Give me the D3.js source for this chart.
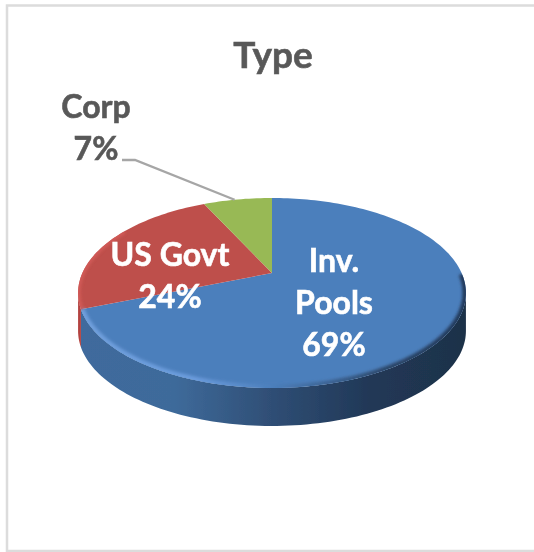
<!DOCTYPE html>
<html>
<head>
<meta charset="utf-8">
<style>
  html, body { margin: 0; padding: 0; background: #fff; }
  svg { display: block; }
  text { font-family: Lato, "Open Sans", sans-serif; font-weight: 700; text-anchor: middle; stroke-width: 0.6; }
</style>
<script src="https://cdn.jsdelivr.net/npm/d3@7"></script>
</head>
<body>
<div id="chart-area"></div>
<script>
const categories = ["Inv. Pools", "US Govt", "Corp"]
const shares = [69, 24, 7]
const topColors = ["#4c7fbc", "#be4f4b", "#98b954"]
const labelLines = [["Inv.", "Pools", "69%"], ["US Govt", "24%"], ["Corp", "7%"]]
const labelColors = ["#ffffff", "#ffffff", "#595959"]
const labelPos = [[334, 272], [170, 266], [96, 118]]

const WIDTH = 534
const HEIGHT = 552
const APEX = { X: 272, Y: 273 }
const DEPTH = 38
// perspective tilt of the disc, worked out from the top, front and side of the pie
const TILT = { K: -0.21, A: 90.8, B: 189.6 }

const svg = d3.select("#chart-area").append("svg")
  .attr("width", WIDTH)
  .attr("height", HEIGHT)

const defs = svg.append("defs")

defs.append("filter").attr("id", "soft")
  .append("feGaussianBlur").attr("stdDeviation", 0.6)
defs.append("filter").attr("id", "rim")
  .append("feGaussianBlur").attr("stdDeviation", 1.8)

function hGradient(id, stops) {
  const grad = defs.append("linearGradient")
    .attr("id", id)
    .attr("gradientUnits", "userSpaceOnUse")
    .attr("x1", 78).attr("x2", 466).attr("y1", 0).attr("y2", 0)
  stops.forEach(s => grad.append("stop").attr("offset", s[0]).attr("stop-color", s[1]))
}
hGradient("blueSide", [[0, "#3f6b9d"], [0.25, "#3e6a9a"], [0.5, "#2f4e75"], [0.75, "#213857"], [1, "#1e3249"]])
hGradient("rimGlow", [[0, "#6f9fdc"], [0.3, "#6a9bdc"], [0.5, "#4c7fbc"], [0.8, "#2b4668"], [1, "#22395a"]])

// angle clockwise from 12 o'clock to screen position on the rim
function project(angle, drop = 0) {
  const u = Math.sin(angle)
  const v = -Math.cos(angle)
  const w = 1 + TILT.K * v
  return [APEX.X + TILT.B * u / w, APEX.Y + TILT.A * v / w + drop]
}

function rimPoints(a0, a1, drop = 0) {
  const n = Math.max(2, Math.ceil(Math.abs(a1 - a0) * 40))
  return d3.range(n + 1).map(i => project(a0 + (a1 - a0) * i / n, drop))
}

const line = d3.line()
const pie = d3.pie().sort(null)
const slices = pie(shares)

// side wall runs between the two points where the rim turns back
const TURN = Math.acos(TILT.K)
function wall(a0, a1) {
  const from = Math.max(a0, TURN)
  const to = Math.min(a1, Math.PI * 2 - TURN)
  if (to <= from) return null
  return line(rimPoints(from, to).concat(rimPoints(to, from, DEPTH))) + "Z"
}

const pieG = svg.append("g").attr("filter", "url(#soft)")

pieG.selectAll(".side").data(slices).enter().append("path")
  .attr("class", "side")
  .attr("d", d => wall(d.startAngle, d.endAngle))
  .attr("fill", (d, i) => i === 0 ? "url(#blueSide)" : "#b3423f")

// top surface
pieG.selectAll(".top").data(slices).enter().append("path")
  .attr("class", "top")
  .attr("d", d => line([[APEX.X, APEX.Y]].concat(rimPoints(d.startAngle, d.endAngle))) + "Z")
  .attr("fill", (d, i) => topColors[i])

// bevel along the front edge of the blue and red slices
defs.append("clipPath").attr("id", "topClip")
  .append("path").attr("d", line(rimPoints(0, Math.PI * 2)) + "Z")

pieG.append("path")
  .attr("d", line(rimPoints(TURN - 0.2, slices[0].endAngle)))
  .attr("clip-path", "url(#topClip)")
  .attr("fill", "none")
  .attr("stroke", "url(#rimGlow)")
  .attr("stroke-width", 7)
  .attr("filter", "url(#rim)")

pieG.append("path")
  .attr("d", line(rimPoints(slices[1].startAngle, slices[1].endAngle - 0.6)))
  .attr("clip-path", "url(#topClip)")
  .attr("fill", "none")
  .attr("stroke", "#d25a57")
  .attr("stroke-width", 5)
  .attr("filter", "url(#rim)")

// leader line for Corp
const corpTip = project((slices[2].startAngle + slices[2].endAngle) / 2 - 0.02)
svg.append("path")
  .attr("d", line([[122, 160], [135, 160], corpTip]))
  .attr("fill", "none")
  .attr("stroke", "#a6a6a6")
  .attr("stroke-width", 2.4)
  .attr("filter", "url(#soft)")

// frame
svg.append("path")
  .attr("d", "M7,552V5.5H534M7,551H534")
  .attr("fill", "none")
  .attr("stroke", "#dcdcdc")
  .attr("stroke-width", 2.5)

// title and labels
svg.append("text")
  .attr("x", 273).attr("y", 68)
  .attr("font-size", 37)
  .attr("fill", "#595959")
  .attr("stroke", "#595959")
  .attr("filter", "url(#soft)")
  .text("Type")

labelLines.forEach((lines, i) => {
  lines.forEach((txt, j) => {
    svg.append("text")
      .attr("x", labelPos[i][0])
      .attr("y", labelPos[i][1] + j * 42)
      .attr("font-size", 32)
      .attr("fill", labelColors[i])
      .attr("stroke", labelColors[i])
      .attr("filter", "url(#soft)")
      .text(txt)
  })
})
</script>
</body>
</html>
